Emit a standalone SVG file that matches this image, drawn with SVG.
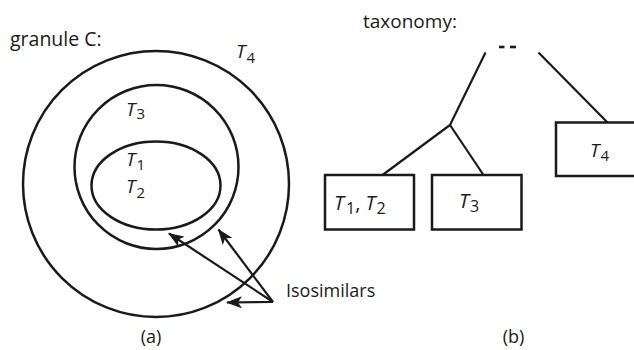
<svg xmlns="http://www.w3.org/2000/svg" width="634" height="350" viewBox="0 0 634 350">
<style>
  .shape { fill: none; stroke: #1a1a1a; stroke-width: 2.5; }
  .ln { fill: none; stroke: #1a1a1a; stroke-width: 2.2; }
  .box { fill: #ffffff; stroke: #1a1a1a; stroke-width: 2.5; }
  .lbl { font-family: "Open Sans", "Liberation Sans", sans-serif; font-size: 19px; fill: #1a1a1a; }
  .t { font-family: "Open Sans", "Liberation Sans", sans-serif; font-size: 19px; font-style: italic; fill: #1a1a1a; }
  .sub { font-style: normal; font-size: 15px; }
</style>
<defs>
  <marker id="ah" viewBox="0 0 16 12" refX="15" refY="6" markerWidth="16" markerHeight="12" markerUnits="userSpaceOnUse" orient="auto">
    <path d="M0,0 L16,6 L0,12 L4,6 Z" fill="#1a1a1a"/>
  </marker>
</defs>
<rect width="634" height="350" fill="#ffffff"/>

<g id="granule">
  <text class="lbl" x="10" y="46" style="font-size:19.5px">granule C:</text>
  <circle id="c4" class="shape" cx="156" cy="184" r="133"/>
  <circle id="c3" class="shape" cx="156.5" cy="167" r="82"/>
  <ellipse id="c12" class="shape" cx="156" cy="185.5" rx="64.5" ry="44"/>
  <text class="t" x="236" y="58">T<tspan class="sub" dx="1" dy="5">4</tspan></text>
  <text class="t" x="126" y="116">T<tspan class="sub" dx="1" dy="3">3</tspan></text>
  <text class="t" x="126" y="166">T<tspan class="sub" dx="1" dy="4">1</tspan></text>
  <text class="t" x="126" y="193">T<tspan class="sub" dx="1" dy="5">2</tspan></text>
  <text class="lbl" x="286" y="297" style="font-size:18px">Isosimilars</text>
  <text class="lbl" x="151" y="343" text-anchor="middle" style="font-size:18px">(a)</text>
</g>

<g id="arrows">
  <line class="ln" x1="273" y1="302" x2="169" y2="233.5" marker-end="url(#ah)"/>
  <line class="ln" x1="273" y1="302" x2="218.5" y2="229.5" marker-end="url(#ah)"/>
  <line class="ln" x1="273" y1="302" x2="227" y2="302.5" marker-end="url(#ah)"/>
</g>

<g id="taxonomy-label">
  <text class="lbl" x="363" y="28">taxonomy:</text>
  <text class="lbl" x="513.5" y="343" text-anchor="middle" style="font-size:18px">(b)</text>
</g>

<g id="connectors">
  <line class="ln" x1="499" y1="47" x2="504.5" y2="47" style="stroke-width:2.6"/>
  <line class="ln" x1="510" y1="47" x2="516" y2="47" style="stroke-width:2.6"/>
  <line class="ln" x1="485.5" y1="52.5" x2="450" y2="125"/>
  <line class="ln" x1="450" y1="125" x2="382.5" y2="175"/>
  <line class="ln" x1="450" y1="125" x2="483.5" y2="175"/>
  <line class="ln" x1="538.5" y1="52.5" x2="607.5" y2="122.5"/>
</g>

<g id="node-t12">
  <rect class="box" x="325" y="175" width="89" height="54.5"/>
  <text class="t" x="334" y="210" style="font-size:20px">T<tspan class="sub" dx="2" dy="4" style="font-size:16px">1</tspan><tspan dy="-4" style="font-style:normal">, </tspan>T<tspan class="sub" dx="1" dy="4" style="font-size:16px">2</tspan></text>
</g>

<g id="node-t3">
  <rect class="box" x="432" y="175" width="89.5" height="54.5"/>
  <text class="t" x="459" y="208" style="font-size:20px">T<tspan class="sub" dx="1" dy="4" style="font-size:16px">3</tspan></text>
</g>

<g id="node-t4">
  <rect class="box" x="556" y="122.5" width="82" height="53.5"/>
  <text class="t" x="590" y="157">T<tspan class="sub" dx="1" dy="4">4</tspan></text>
</g>
</svg>
